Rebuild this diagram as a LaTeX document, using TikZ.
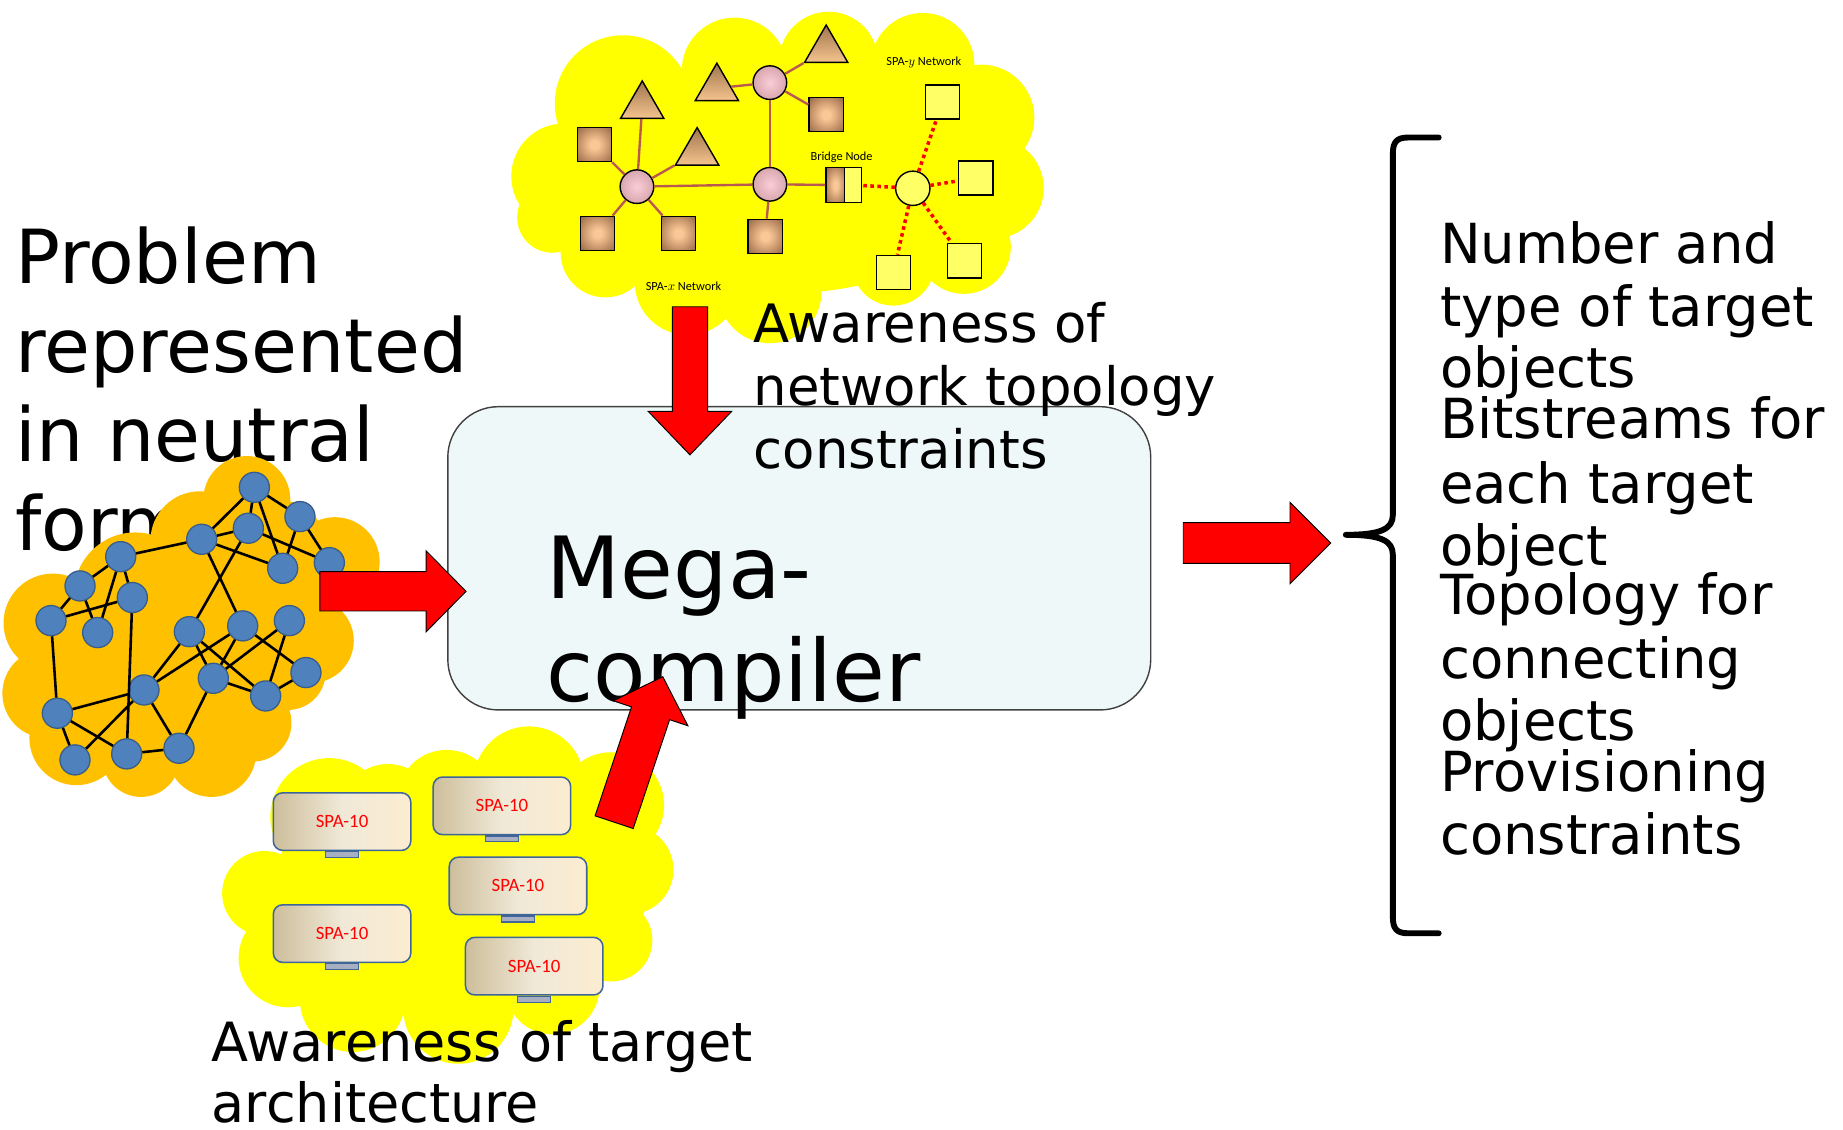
\documentclass[tikz,border=0pt]{standalone}
\usepackage{fontspec}
\setmainfont{DejaVu Sans}
\newfontfamily\nhanfont{Carlito}
\newfontfamily\hepfont{DejaVu Sans}[FakeStretch=0.985]
\usepackage{xcolor}
\usepackage{tikz}
\usetikzlibrary{shapes.geometric, positioning}

% Màu dùng trong hình
\definecolor{cloudyellow}{RGB}{255,255,0}
\definecolor{cloudorange}{RGB}{255,192,0}
\definecolor{nodeblue}{RGB}{79,129,189}
\definecolor{nodeline}{RGB}{56,93,138}
\definecolor{boxfill}{RGB}{239,248,248}
\definecolor{boxline}{RGB}{64,64,64}
\definecolor{linkbrown}{RGB}{185,88,78}
\definecolor{lemonfill}{RGB}{255,255,102}
\definecolor{bronzelight}{RGB}{250,200,150}
\definecolor{bronzemid}{RGB}{185,135,95}
\definecolor{bronzedark}{RGB}{95,70,48}
\definecolor{pearllight}{RGB}{250,205,215}
\definecolor{pearlmid}{RGB}{215,165,172}
\definecolor{pearldark}{RGB}{110,80,80}
\definecolor{pyrtop}{RGB}{160,118,78}
\definecolor{pyrbottom}{RGB}{245,196,142}
\definecolor{spaline}{RGB}{63,102,152}
\definecolor{spaleft}{RGB}{205,190,155}
\definecolor{spamid}{RGB}{240,233,215}
\definecolor{sparight}{RGB}{252,236,208}
\definecolor{standgray}{RGB}{168,175,192}

% Bóng đổ cho nút vuông và nút tròn
\pgfdeclareradialshading{bronzebox}{\pgfpoint{0bp}{0bp}}{color(0bp)=(bronzelight); color(6bp)=(bronzelight); color(26bp)=(bronzemid); color(46bp)=(bronzedark); color(50bp)=(bronzedark)}
\pgfdeclareradialshading{pearlball}{\pgfpoint{0bp}{0bp}}{color(0bp)=(pearllight); color(26bp)=(pearlmid); color(50bp)=(pearldark)}

% Mũi tên khối: gốc (#1,#2), góc #3, dài #4, nửa thân #5, nửa đầu #6, dài đầu #7
\newcommand{\blockarrow}[7]{%
  \draw[redblock, shift={(#1,#2)}, rotate=#3]
    (0,-#5) -- ({#4-#7},-#5) -- ({#4-#7},-#6) -- (#4,0)
    -- ({#4-#7},#6) -- ({#4-#7},#5) -- (0,#5) -- cycle;}

\begin{document}
\begin{tikzpicture}[x=1pt, y=-1pt,
    bluenode/.style={circle, draw=nodeline, line width=1.1pt, fill=nodeblue, minimum size=25.6pt, inner sep=0pt},
    graphedge/.style={line width=2.2pt},
    pearl/.style={circle, draw, line width=1.2pt, shading=pearlball, minimum size=28.6pt, inner sep=0pt},
    bronze/.style={rectangle, draw, line width=1.2pt, shading=bronzebox, minimum size=29pt, inner sep=0pt},
    pyramid/.style={regular polygon, regular polygon sides=3, draw, line width=1.2pt, top color=pyrtop, bottom color=pyrbottom, minimum size=42.5pt, inner sep=0pt},
    lemon/.style={rectangle, draw, line width=1.2pt, fill=lemonfill, minimum size=29pt, inner sep=0pt},
    netlink/.style={draw=linkbrown, line width=2pt},
    dotlink/.style={draw=red, line width=3pt, dash pattern=on 3pt off 3pt},
    netlabel/.style={font=\nhanfont\fontsize{10.5}{12}\selectfont, inner sep=0pt},
    spabox/.style={rectangle, rounded corners=8pt, draw=spaline, line width=1.3pt, left color=spaleft, right color=sparight, middle color=spamid, minimum width=117pt, minimum height=49pt, inner sep=0pt, text=red, font=\nhanfont\fontsize{16}{19}\selectfont},
    spastand/.style={rectangle, draw=spaline, line width=1pt, fill=standgray, minimum width=28pt, minimum height=5pt, inner sep=0pt},
    compbox/.style={rectangle, rounded corners=43pt, draw=boxline, line width=1.2pt, fill=boxfill, minimum width=598pt, minimum height=258pt},
    redblock/.style={fill=red, draw=black, line width=0.8pt, line join=miter},
    bigtext/.style={anchor=base west, inner sep=0pt}]

    \useasboundingbox (0,0) rectangle (1568,961);

    % Dòng chữ bên trái (bị đám mây che một phần)
    \foreach \txt/\yy [count=\i] in {Problem/241, represented/317, in neutral/393, form/468}
        \node[bigtext, font=\fontsize{63.5}{76}\selectfont] (prob\i) at (13,\yy) {\txt};

    % Đám mây vàng phía dưới và các khối SPA-10
    \fill[cloudyellow] (390,760) ellipse[x radius=160pt, y radius=100pt];
    \foreach \cx/\cy/\rad in {280/695/50, 225/760/36, 245/815/42, 300/850/45, 390/858/47, 470/840/40,
                              520/800/35, 535/740/38, 520/685/45, 450/665/47, 380/680/42, 330/690/40}
        \fill[cloudyellow] (\cx,\cy) circle[radius=\rad pt];
    \foreach \xx/\yy [count=\i] in {291/699, 427/685.6, 440.7/753.7, 291/794.3, 454.5/822}
    {
        \node[spabox] (spa\i) at (\xx,\yy) {SPA-10};
        \node[spastand, below=0pt of spa\i] (stand\i) {};
    }

    % Đám mây cam và đồ thị bài toán
    \fill[cloudorange] (160,545) ellipse[x radius=115pt, y radius=90pt];
    \foreach \cx/\cy/\rad in {210/425/37, 285/478/38, 240/462/36, 265/545/36, 245/572/32, 215/615/33,
                              180/640/38, 120/645/33, 65/628/40, 40/590/38, 45/530/42, 115/505/52,
                              170/460/42}
        \fill[cloudorange] (\cx,\cy) circle[radius=\rad pt];
    \foreach \xx/\yy [count=\i] in {216.4/414.6, 255.2/439.5, 211.3/449.4, 171.6/458.8, 240.5/483.5,
                                   280.2/478.7, 102.7/473.6, 68.1/498.5, 112.6/508.4, 43.4/528.0,
                                   83.1/538.2, 161.1/537.4, 206.5/532.5, 246.2/528.0, 181.5/577.1,
                                   260.3/572.2, 226.0/592.1, 122.5/587.0, 48.8/606.8, 63.8/646.5,
                                   107.8/641.4, 152.3/636.6}
        \node[bluenode] (n\i) at (\xx,\yy) {};
    \foreach \a/\b in {1/4, 1/3, 1/2, 1/5, 3/4, 3/6, 2/5, 2/6, 4/5, 4/7, 4/13, 3/12,
                       7/8, 7/11, 7/9, 8/10, 8/11, 9/10, 9/21, 10/19, 12/18, 12/15, 12/17,
                       13/18, 13/15, 13/16, 14/15, 14/17, 15/17, 15/22, 16/17, 18/19,
                       18/20, 18/22, 19/20, 19/21, 21/22}
        \draw[graphedge] (n\a) -- (n\b);

    % Khối trình biên dịch
    \node[compbox] (compiler) at (680,475) {};
    \node[bigtext, font=\fontsize{73}{88}\selectfont] (mega1) at (465,509) {Mega-};
    \node[bigtext, font=\fontsize{73}{88}\selectfont] (mega2) at (465,597) {compiler};

    % Đám mây vàng phía trên và mạng SPA
    \fill[cloudyellow] (660,150) ellipse[x radius=190pt, y radius=100pt];
    \foreach \cx/\cy/\rad in {480/150/45, 530/88/58, 625/60/45, 705/52/42, 785/55/44, 835/100/45,
                              845/160/43, 820/210/40, 760/225/35, 655/248/44, 585/240/45,
                              515/215/38, 470/185/30}
        \fill[cloudyellow] (\cx,\cy) circle[radius=\rad pt];

    \node[pearl] (hubA) at (541.9,158.8) {};
    \node[pearl] (hubB) at (655.0,70.3) {};
    \node[pearl] (hubC) at (655.0,156.8) {};
    \node[pyramid] (triA) at (546.4,90.1) {};
    \node[pyramid] (triB) at (609.9,75.0) {};
    \node[pyramid] (triC) at (702.9,42.5) {};
    \node[pyramid] (triD) at (593.1,129.8) {};
    \node[bronze] (sqA) at (505.7,123.1) {};
    \node[bronze] (sqB) at (702.9,97.6) {};
    \node[bronze] (sqC) at (508.5,198.5) {};
    \node[bronze] (sqD) at (577.1,198.5) {};
    \node[bronze] (sqE) at (651.0,201.1) {};
    \node[bronze, minimum width=15.8pt, minimum height=29.5pt] (bridgeL) at (710.8,157.4) {};
    \node[lemon, minimum width=14pt, minimum height=29.5pt] (bridgeR) at (725.7,157.4) {};
    \node[lemon, circle, minimum size=29.2pt] (hubY) at (776.6,160.2) {};
    \node[lemon] (ysqA) at (801.8,86.8) {};
    \node[lemon] (ysqB) at (830.2,151.4) {};
    \node[lemon] (ysqC) at (820.4,221.9) {};
    \node[lemon] (ysqD) at (760.0,231.8) {};

    \foreach \a/\b in {hubA/triA, hubA/sqA, hubA/triD, hubA/sqC, hubA/sqD, hubA/hubC,
                       hubC/hubB, hubC/sqE, hubC/bridgeL, hubB/triB, hubB/triC, hubB/sqB}
        \draw[netlink] (\a) -- (\b);
    \foreach \b in {bridgeR, ysqA, ysqB, ysqC, ysqD}
        \draw[dotlink] (hubY) -- (\b);

    \node[netlabel] (labY) at (786,53) {SPA-$y$ Network};
    \node[netlabel] (labB) at (716,133.6) {Bridge Node};
    \node[netlabel] (labX) at (581.5,243.3) {SPA-$x$ Network};

    % Chú thích ràng buộc mạng
    \foreach \txt/\yy [count=\i] in {Awareness of/291, network topology/345, constraints/399}
        \node[bigtext, font=\fontsize{45}{54}\selectfont] (topo\i) at (641,\yy) {\txt};

    % Các mũi tên đỏ
    \blockarrow{587}{261}{-90}{126}{15}{35.5}{37}
    \blockarrow{272.2}{503.1}{0}{124.3}{16.7}{34.5}{34}
    \blockarrow{522.5}{699.5}{71.5}{130.5}{17.1}{33.5}{32.8}
    \blockarrow{1006.7}{462}{0}{125.4}{17.3}{34.6}{34.6}

    % Chú thích kiến trúc đích
    \foreach \txt/\yy [count=\i] in {Awareness of target/903, architecture/955}
        \node[bigtext, font=\fontsize{46}{54}\selectfont] (arch\i) at (180,\yy) {\txt};

    % Dấu ngoặc và kết quả
    \draw[line width=5pt, line cap=round, line join=round]
        (1224,117) -- (1198,117) .. controls (1188,117) and (1185,121) .. (1185,131)
        -- (1185,438) .. controls (1185,450) and (1175,455) .. (1145,455)
        .. controls (1175,455) and (1185,460) .. (1185,472)
        -- (1185,780) .. controls (1185,790) and (1188,794) .. (1198,794) -- (1224,794);
    \foreach \txt/\yy [count=\i] in {Number and/224, type of target/278, objects/330,
                                   Bitstreams for/373, each target/428, object/481,
                                   Topology for/523, connecting/577, objects/630,
                                   Provisioning/673, constraints/727}
        \node[bigtext, font=\hepfont\fontsize{47}{54}\selectfont] (out\i) at (1225,\yy) {\txt};
\end{tikzpicture}
\end{document}
